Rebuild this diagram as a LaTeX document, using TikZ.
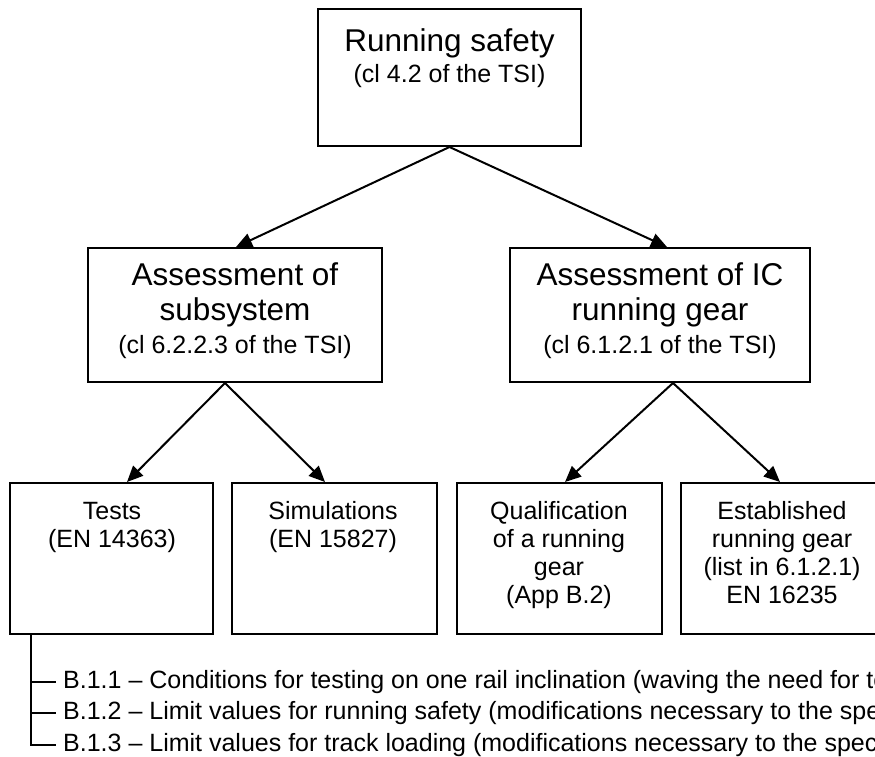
\documentclass[tikz,border=0pt]{standalone}
\usepackage{fontspec}
\setmainfont{Liberation Sans}
\usetikzlibrary{positioning, arrows.meta, calc}
\newcommand{\smalltxt}{\fontsize{25}{28}\selectfont}
\tikzset{
    box/.style={draw, line width=2pt, inner sep=0pt},
    bigtxt/.style={align=center, inner sep=0pt, anchor=base, font=\fontsize{31.5}{35}\selectfont},
    smtxt/.style={align=center, inner sep=0pt, anchor=base, font=\smalltxt},
    listtxt/.style={inner xsep=7pt, inner ysep=0pt, anchor=base west, font=\smalltxt},
    arr/.style={line width=2pt, -{Triangle[length=16pt,width=14pt]}},
    line/.style={line width=2pt}
}

\begin{document}
\begin{tikzpicture}[x=1pt, y=-1pt]
            \useasboundingbox (0,0) rectangle (875,756);
            \clip (0,0) rectangle (875,756);
            \node[box, minimum width=263, minimum height=137] (safety) at (449.5,77.5) {};
            \node[box, minimum width=294, minimum height=134] (subsys) at (235,315) {};
            \node[box, minimum width=300, minimum height=134] (icgear) at (660,315) {};
            \node[box, minimum width=203, minimum height=151] (tests) at (111.5,558.5) {};
            \node[box, minimum width=205, minimum height=151] (sims) at (334.5,558.5) {};
            \node[box, minimum width=205, minimum height=151] (qualif) at (559.5,558.5) {};
            \node[box, minimum width=204, minimum height=151] (estab) at (783,558.5) {};
            \node[bigtxt] (safetytxt) at (449.5,82) {Running safety\\[-4pt]{\smalltxt (cl 4.2 of the TSI)}};
            \node[bigtxt] (subsystxt) at (235,353) {Assessment of\\subsystem\\[-2pt]{\smalltxt (cl 6.2.2.3 of the TSI)}};
            \node[bigtxt] (icgeartxt) at (660,353) {Assessment of IC\\running gear\\[-2pt]{\smalltxt (cl 6.1.2.1 of the TSI)}};
            \node[smtxt] (teststxt) at (112,547) {Tests\\(EN 14363)};
            \node[smtxt] (simstxt) at (333,547) {Simulations\\(EN 15827)};
            \node[smtxt] (qualiftxt) at (559,603) {Qualification\\of a running\\gear\\(App B.2)};
            \node[smtxt] (estabtxt) at (782,603) {Established\\running gear\\(list in 6.1.2.1)\\EN 16235};
            \draw[arr] (safety.south) -- ([xshift=1pt]subsys.north);
            \draw[arr] (safety.south) -- ([xshift=7pt]icgear.north);
            \draw[arr] ([xshift=-10pt]subsys.south) -- ([xshift=15.5pt]tests.north);
            \draw[arr] ([xshift=-10pt]subsys.south) -- ([xshift=-9.5pt]sims.north);
            \draw[arr] ([xshift=13pt]icgear.south) -- ([xshift=5.5pt]qualif.north);
            \draw[arr] ([xshift=13pt]icgear.south) -- ([xshift=-3pt]estab.north);
            \node[listtxt] (b1) at (56,688) {B.1.1 -- Conditions for testing on one rail inclination (waving the need for testing on two rail inclinations)};
            \node[listtxt] (b2) at (56,719) {B.1.2 -- Limit values for running safety (modifications necessary to the specification)};
            \node[listtxt] (b3) at (56,751) {B.1.3 -- Limit values for track loading (modifications necessary to the specification)};
            \coordinate (stem) at ([xshift=22pt]tests.south west);
            \draw[line] (stem) |- (b3.west);
            \draw[line] (stem |- b1.west) -- (b1.west);
            \draw[line] (stem |- b2.west) -- (b2.west);
        \end{tikzpicture}
\end{document}
